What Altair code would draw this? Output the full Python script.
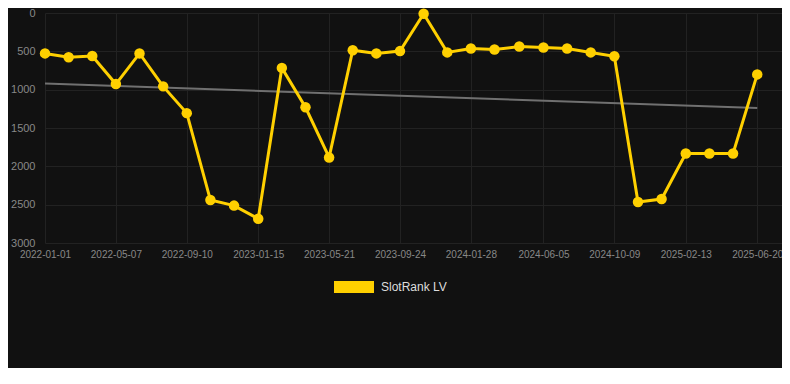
import altair as alt
import pandas as pd

dates = [
    "2022-01-01", "2022-02-12", "2022-03-26", "2022-05-07", "2022-06-18", "2022-07-30",
    "2022-09-10", "2022-10-22", "2022-12-03", "2023-01-15", "2023-02-26", "2023-04-09",
    "2023-05-21", "2023-07-02", "2023-08-13", "2023-09-24", "2023-11-05", "2023-12-17",
    "2024-01-28", "2024-03-10", "2024-04-23", "2024-06-05", "2024-07-17", "2024-08-28",
    "2024-10-09", "2024-11-20", "2025-01-01", "2025-02-13", "2025-03-27", "2025-05-08",
    "2025-06-20",
]
ranks = [
    527, 577, 560, 927, 527, 957, 1306, 2440, 2512, 2684, 716, 1230,
    1884, 485, 527, 497, 10, 514, 464, 476, 438, 451, 464, 514,
    565, 2465, 2427, 1833, 1833, 1833, 801,
]
tick_dates = [
    "2022-01-01", "2022-05-07", "2022-09-10", "2023-01-15", "2023-05-21", "2023-09-24",
    "2024-01-28", "2024-06-05", "2024-10-09", "2025-02-13", "2025-06-20",
]
y_ticks = [0, 500, 1000, 1500, 2000, 2500, 3000]
series_name = "SlotRank LV"

df = pd.DataFrame({
    "date": [d + "T00:00:00" for d in dates],
    "rank": ranks,
    "series": [series_name] * len(dates),
})

def dt(s):
    y, m, d = (int(p) for p in s.split("-"))
    return alt.DateTime(year=y, month=m, date=d)

x_enc = alt.X(
    "date:T",
    scale=alt.Scale(domain=[dt("2022-01-01"), dt("2025-08-03")]),
    axis=alt.Axis(
        values=[dt(s) for s in tick_dates],
        format="%Y-%m-%d",
        title=None,
        labelColor="#888888",
        labelFontSize=10,
        labelFont="Liberation Sans",
        labelAlign="center",
        labelOverlap=False,
        labelFlush=False,
        grid=True,
        gridColor="#222222",
        domain=False,
        ticks=False,
        labelPadding=6,
    ),
)
y_enc = alt.Y(
    "rank:Q",
    scale=alt.Scale(domain=[0, 3000], reverse=True, nice=False),
    axis=alt.Axis(
        values=y_ticks,
        format="d",
        title=None,
        labelColor="#888888",
        labelFontSize=11,
        labelFont="Liberation Sans",
        grid=True,
        gridColor="#222222",
        domain=False,
        ticks=False,
        labelPadding=10,
    ),
)

base = alt.Chart(df)

trend = base.transform_regression("date", "rank").mark_line(
    color="#707070", strokeWidth=2
).encode(x=x_enc, y=y_enc)

line = base.mark_line(
    strokeWidth=3,
    point=alt.OverlayMarkDef(filled=True, size=110, color="#FFD000", opacity=1),
).encode(
    x=x_enc,
    y=y_enc,
    color=alt.Color(
        "series:N",
        scale=alt.Scale(domain=[series_name], range=["#FFD000"]),
        legend=alt.Legend(
            title=None,
            orient="none",
            legendX=289,
            legendY=254,
            direction="horizontal",
            symbolType="M-1,-0.3L1,-0.3L1,0.3L-1,0.3Z",
            symbolSize=1600,
            symbolFillColor="#FFD000",
            symbolStrokeWidth=0,
            labelColor="#dddddd",
            labelFontSize=12,
            labelFont="Liberation Sans",
            labelOffset=7,
        ),
    ),
)

chart = alt.layer(trend, line).properties(
    width=737,
    height=230,
    background="#111111",
    padding={"left": 37, "top": 5, "right": 0, "bottom": 125},
    autosize=alt.AutoSizeParams(type="none"),
).configure_view(stroke=None)

chart.save("out.html", embed_options={"renderer": "svg", "actions": False})
